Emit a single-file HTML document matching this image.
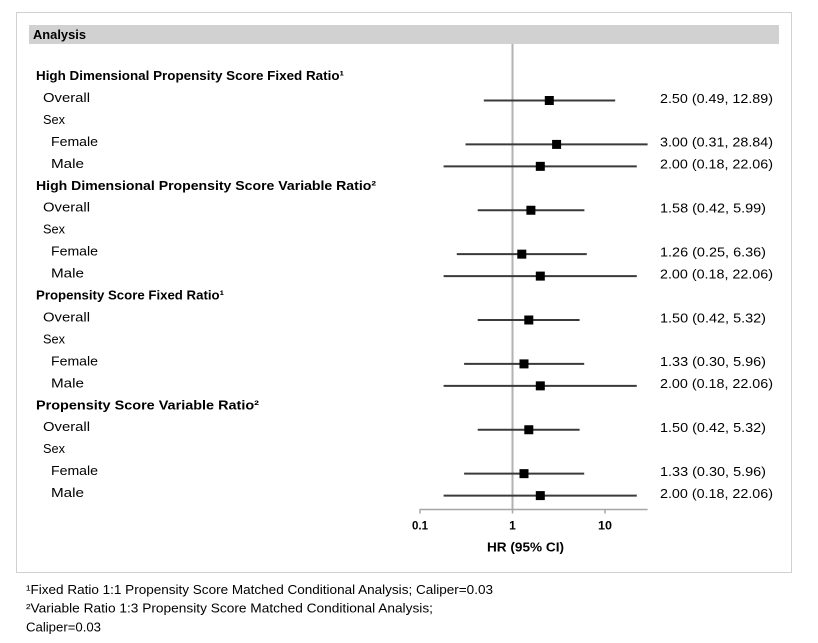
<!DOCTYPE html>
<html>
<head>
<meta charset="utf-8">
<style>
  html, body { margin:0; padding:0; background:#ffffff; }
  svg { display:block; }
  text { font-family: "Liberation Sans", "DejaVu Sans", sans-serif; fill:#000; }
  .b { font-weight:bold; }
</style>
</head>
<body>
<svg width="818" height="643" viewBox="0 0 818 643" xmlns="http://www.w3.org/2000/svg">
  <rect x="0" y="0" width="818" height="643" fill="#ffffff"/>
  <!-- outer box -->
  <rect x="16.5" y="12.5" width="775" height="560" fill="none" stroke="#d0d0d0" stroke-width="1"/>
  <!-- header bar -->
  <rect x="29" y="25" width="750" height="19" fill="#d1d1d1"/>
  <text class="b" x="33" y="39" font-size="13" textLength="53" lengthAdjust="spacingAndGlyphs">Analysis</text>

  <!-- reference line -->
  <line x1="512.5" y1="44" x2="512.5" y2="509.5" stroke="#b2b2b2" stroke-width="2"/>

  <!-- axis -->
  <line x1="419.5" y1="509.5" x2="647.6" y2="509.5" stroke="#a6a6a6" stroke-width="1.5"/>
  <line x1="420" y1="509.5" x2="420" y2="513.5" stroke="#a6a6a6" stroke-width="1.5"/>
  <line x1="512.5" y1="509.5" x2="512.5" y2="513.5" stroke="#a6a6a6" stroke-width="1.5"/>
  <line x1="605" y1="509.5" x2="605" y2="513.5" stroke="#a6a6a6" stroke-width="1.5"/>
  <text class="b" x="420" y="529.5" font-size="12" text-anchor="middle" textLength="16" lengthAdjust="spacingAndGlyphs">0.1</text>
  <text class="b" x="512.5" y="529.5" font-size="12" text-anchor="middle">1</text>
  <text class="b" x="605" y="529.5" font-size="12" text-anchor="middle" textLength="14" lengthAdjust="spacingAndGlyphs">10</text>
  <text class="b" x="487" y="551.5" font-size="13" textLength="77" lengthAdjust="spacingAndGlyphs">HR (95% CI)</text>

  <!-- left labels -->
  <g font-size="13">
    <text class="b" x="36" y="80" textLength="308" lengthAdjust="spacingAndGlyphs">High Dimensional Propensity Score Fixed Ratio¹</text>
    <text x="43" y="101.95" textLength="47" lengthAdjust="spacingAndGlyphs">Overall</text>
    <text x="43" y="123.9" textLength="22" lengthAdjust="spacingAndGlyphs">Sex</text>
    <text x="51" y="145.85" textLength="47" lengthAdjust="spacingAndGlyphs">Female</text>
    <text x="51" y="167.8" textLength="33" lengthAdjust="spacingAndGlyphs">Male</text>

    <text class="b" x="36" y="189.75" textLength="340" lengthAdjust="spacingAndGlyphs">High Dimensional Propensity Score Variable Ratio²</text>
    <text x="43" y="211.7" textLength="47" lengthAdjust="spacingAndGlyphs">Overall</text>
    <text x="43" y="233.65" textLength="22" lengthAdjust="spacingAndGlyphs">Sex</text>
    <text x="51" y="255.6" textLength="47" lengthAdjust="spacingAndGlyphs">Female</text>
    <text x="51" y="277.55" textLength="33" lengthAdjust="spacingAndGlyphs">Male</text>

    <text class="b" x="36" y="299.5" textLength="188" lengthAdjust="spacingAndGlyphs">Propensity Score Fixed Ratio¹</text>
    <text x="43" y="321.45" textLength="47" lengthAdjust="spacingAndGlyphs">Overall</text>
    <text x="43" y="343.4" textLength="22" lengthAdjust="spacingAndGlyphs">Sex</text>
    <text x="51" y="365.35" textLength="47" lengthAdjust="spacingAndGlyphs">Female</text>
    <text x="51" y="387.3" textLength="33" lengthAdjust="spacingAndGlyphs">Male</text>

    <text class="b" x="36" y="409.25" textLength="223" lengthAdjust="spacingAndGlyphs">Propensity Score Variable Ratio²</text>
    <text x="43" y="431.2" textLength="47" lengthAdjust="spacingAndGlyphs">Overall</text>
    <text x="43" y="453.15" textLength="22" lengthAdjust="spacingAndGlyphs">Sex</text>
    <text x="51" y="475.1" textLength="47" lengthAdjust="spacingAndGlyphs">Female</text>
    <text x="51" y="497.05" textLength="33" lengthAdjust="spacingAndGlyphs">Male</text>
  </g>

  <!-- CI lines -->
  <g stroke="#3a3a3a" stroke-width="2">
    <line x1="483.8" y1="100.5" x2="615.2" y2="100.5"/>
    <line x1="465.5" y1="144.4" x2="647.6" y2="144.4"/>
    <line x1="443.6" y1="166.35" x2="636.8" y2="166.35"/>
    <line x1="477.7" y1="210.25" x2="584.4" y2="210.25"/>
    <line x1="456.8" y1="254.15" x2="586.8" y2="254.15"/>
    <line x1="443.6" y1="276.1" x2="636.8" y2="276.1"/>
    <line x1="477.7" y1="320.0" x2="579.6" y2="320.0"/>
    <line x1="464.1" y1="363.9" x2="584.2" y2="363.9"/>
    <line x1="443.6" y1="385.85" x2="636.8" y2="385.85"/>
    <line x1="477.7" y1="429.75" x2="579.6" y2="429.75"/>
    <line x1="464.1" y1="473.65" x2="584.2" y2="473.65"/>
    <line x1="443.6" y1="495.6" x2="636.8" y2="495.6"/>
  </g>
  <!-- markers -->
  <g fill="#000">
    <rect x="544.8" y="96" width="9" height="9"/>
    <rect x="552.1" y="139.9" width="9" height="9"/>
    <rect x="535.8" y="161.85" width="9" height="9"/>
    <rect x="526.4" y="205.75" width="9" height="9"/>
    <rect x="517.3" y="249.65" width="9" height="9"/>
    <rect x="535.8" y="271.6" width="9" height="9"/>
    <rect x="524.3" y="315.5" width="9" height="9"/>
    <rect x="519.5" y="359.4" width="9" height="9"/>
    <rect x="535.8" y="381.35" width="9" height="9"/>
    <rect x="524.3" y="425.25" width="9" height="9"/>
    <rect x="519.5" y="469.15" width="9" height="9"/>
    <rect x="535.8" y="491.1" width="9" height="9"/>
  </g>

  <!-- value labels -->
  <g font-size="13">
    <text x="660" y="102.8" textLength="113" lengthAdjust="spacingAndGlyphs">2.50 (0.49, 12.89)</text>
    <text x="660" y="146.7" textLength="113" lengthAdjust="spacingAndGlyphs">3.00 (0.31, 28.84)</text>
    <text x="660" y="168.65" textLength="113" lengthAdjust="spacingAndGlyphs">2.00 (0.18, 22.06)</text>
    <text x="660" y="212.55" textLength="106" lengthAdjust="spacingAndGlyphs">1.58 (0.42, 5.99)</text>
    <text x="660" y="256.45" textLength="106" lengthAdjust="spacingAndGlyphs">1.26 (0.25, 6.36)</text>
    <text x="660" y="278.4" textLength="113" lengthAdjust="spacingAndGlyphs">2.00 (0.18, 22.06)</text>
    <text x="660" y="322.3" textLength="106" lengthAdjust="spacingAndGlyphs">1.50 (0.42, 5.32)</text>
    <text x="660" y="366.2" textLength="106" lengthAdjust="spacingAndGlyphs">1.33 (0.30, 5.96)</text>
    <text x="660" y="388.15" textLength="113" lengthAdjust="spacingAndGlyphs">2.00 (0.18, 22.06)</text>
    <text x="660" y="432.05" textLength="106" lengthAdjust="spacingAndGlyphs">1.50 (0.42, 5.32)</text>
    <text x="660" y="475.95" textLength="106" lengthAdjust="spacingAndGlyphs">1.33 (0.30, 5.96)</text>
    <text x="660" y="497.9" textLength="113" lengthAdjust="spacingAndGlyphs">2.00 (0.18, 22.06)</text>
  </g>

  <!-- footnotes -->
  <g font-size="13">
    <text x="26" y="594" textLength="467" lengthAdjust="spacingAndGlyphs">¹Fixed Ratio 1:1 Propensity Score Matched Conditional Analysis; Caliper=0.03</text>
    <text x="26" y="612.7" textLength="407" lengthAdjust="spacingAndGlyphs">²Variable Ratio 1:3 Propensity Score Matched Conditional Analysis;</text>
    <text x="26" y="631.4" textLength="75" lengthAdjust="spacingAndGlyphs">Caliper=0.03</text>
  </g>
</svg>
</body>
</html>
